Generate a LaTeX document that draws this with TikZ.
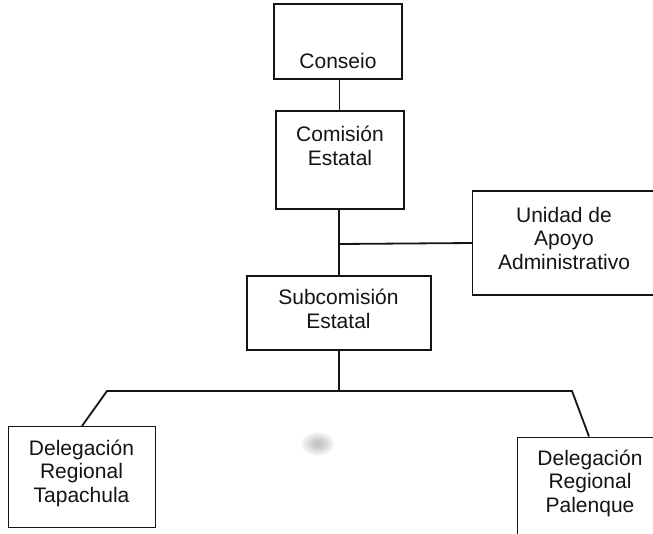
\documentclass[tikz,border=0pt]{standalone}
\usepackage{fontspec}
\setmainfont{Liberation Sans}
\usetikzlibrary{calc}
\definecolor{ink}{HTML}{141414}
\tikzset{
  orgbox/.style={draw=ink, line width=1.4pt, rectangle, inner sep=0pt},
  orgtext/.style={align=center, text=ink, inner sep=0pt, font=\fontsize{21}{23.5}\selectfont},
  link/.style={draw=ink, line width=1.8pt},
}
\newcommand{\lnst}{\strut}
\begin{document}
\begin{tikzpicture}[x=1pt,y=-1pt]
\clip (0,0) rectangle (653,533);
\fill[white] (0,0) rectangle (653,533);
% boxes
\node[orgbox, minimum width=128pt, minimum height=75pt] (conseio) at (338,41.5) {};
\node[orgbox, minimum width=128pt, minimum height=98pt] (comision) at (340,160) {};
\node[orgbox, minimum width=190pt, minimum height=104pt, anchor=west] (unidad) at (472,243) {};
\node[orgbox, minimum width=184pt, minimum height=74pt] (sub) at (339,313) {};
\node[orgbox, minimum width=147pt, minimum height=101pt, anchor=north west] (tapa) at (7.5,426) {};
\node[orgbox, minimum width=150pt, minimum height=110pt, anchor=north west] (pale) at (517,436.5) {};
% texts
\node[orgtext] (tconseio) at (338,64) {\lnst Conseio};
\node[orgtext] (tcomision) at (340,149) {\lnst Comisión\\\lnst Estatal};
\node[orgtext] (tunidad) at (564,241) {\lnst Unidad de\\\lnst Apoyo\\\lnst Administrativo};
\node[orgtext] (tsub) at (338.5,312) {\lnst Subcomisión\\\lnst Estatal};
\node[orgtext] (ttapa) at (81.5,474) {\lnst Delegación\\\lnst Regional\\\lnst Tapachula};
\node[orgtext] (tpale) at (590,484) {\lnst Delegación\\\lnst Regional\\\lnst Palenque};
% faint scan smudge
\foreach \r in {3,4,...,17}{
  \fill[gray, opacity=0.035] (318,444) ellipse ({\r*1pt} and {\r*0.7pt});
}
% connector points
\coordinate (vx) at (339.5,0);
\coordinate (jn) at (339,244);
\coordinate (hl) at (107,391);
\coordinate (hr) at (572,391);
\coordinate (hm) at (339,391);
\coordinate (tapatop) at (82,426);
\coordinate (paletop) at (589,436.5);
% connectors
\draw[link] (conseio.south -| vx) -- (comision.north -| vx);
\draw[link] (comision.south -| sub.north) -- (sub.north);
\draw[link] (jn) -- (unidad.west);
\draw[link] (sub.south) -- (hm);
\draw[link, line join=miter] (tapatop) -- (hl) -- (hr) -- (paletop);
\end{tikzpicture}
\end{document}
